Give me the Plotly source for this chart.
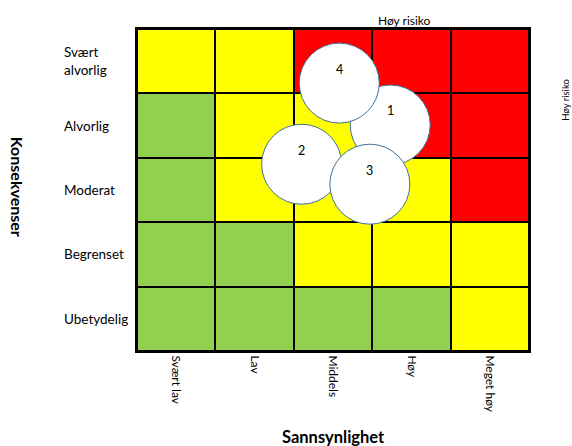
import plotly.graph_objects as go

# Data
likelihood = ["Svært lav", "Lav", "Middels", "Høy", "Meget høy"]
consequence = ["Ubetydelig", "Begrenset", "Moderat", "Alvorlig", "Svært<br>alvorlig"]  # bottom -> top
# risk level per cell: 0 = low (green), 1 = medium (yellow), 2 = high (red); rows bottom -> top
risk_levels = [
    [0, 0, 0, 0, 1],
    [0, 0, 1, 1, 1],
    [0, 1, 1, 1, 2],
    [0, 1, 1, 2, 2],
    [1, 1, 2, 2, 2],
]
# Risk items (drawing order) : likelihood position, consequence position
risk_ids = ["1", "2", "4", "3"]
risk_x = [3.23, 2.10, 2.58, 2.97]
risk_y = [3.51, 2.90, 4.16, 2.59]

FONT = "Lato, Open Sans, sans-serif"
GREEN, YELLOW, RED = "#92D050", "#FFFF00", "#FF0000"

centers = [i + 0.5 for i in range(5)]

fig = go.Figure()
fig.add_trace(go.Heatmap(
    x=centers, y=centers, z=risk_levels,
    zmin=0, zmax=2,
    colorscale=[[0, GREEN], [0.5, YELLOW], [1, RED]],
    showscale=False, xgap=2, ygap=2, hoverinfo="skip",
))
fig.add_trace(go.Scatter(
    x=risk_x, y=risk_y, mode="markers",
    marker=dict(size=80, color="white", line=dict(color="#41719C", width=1)),
    hoverinfo="skip", showlegend=False,
))

annotations = []
for rid, rx, ry in zip(risk_ids, risk_x, risk_y):
    annotations.append(dict(x=rx, y=ry, xref="x", yref="y", text=rid, showarrow=False,
                            yshift=14, font=dict(family=FONT, size=12.5, color="black")))
for yc, lab in zip(centers, consequence):
    annotations.append(dict(x=-0.191, y=yc / 5, xref="paper", yref="paper", text=lab,
                            showarrow=False, xanchor="left", yanchor="middle", align="left",
                            font=dict(family=FONT, size=13.5, color="black")))
annotations += [
    dict(x=0.682, y=1.0, xref="paper", yref="paper", yshift=9, yanchor="middle",
         xanchor="center", text="Høy risiko", showarrow=False,
         font=dict(family=FONT, size=12, color="black")),
    dict(x=1.094, y=0.78, xref="paper", yref="paper", xanchor="center", yanchor="middle",
         text="Høy risiko", showarrow=False,
         textangle=-90, font=dict(family=FONT, size=9.5, color="black")),
    dict(x=-0.306, y=0.51, xref="paper", yref="paper", xanchor="center", yanchor="middle",
         text="<b>Konsekvenser</b>", showarrow=False,
         textangle=90, font=dict(family=FONT, size=16, color="black")),
    dict(x=0.5, y=0, xref="paper", yref="paper", yshift=-86, xanchor="center", yanchor="middle",
         text="<b>Sannsynlighet</b>",
         showarrow=False, font=dict(family=FONT, size=16.5, color="black")),
]

fig.update_layout(
    width=572, height=446, autosize=False,
    margin=dict(l=137, r=43, t=29, b=95),
    paper_bgcolor="white", plot_bgcolor="black",
    showlegend=False,
    annotations=annotations,
    xaxis=dict(range=[0, 5], tickvals=centers, ticktext=likelihood, tickangle=90,
               showgrid=False, zeroline=False, showline=True, linecolor="black", linewidth=2,
               mirror=True, ticks="", tickfont=dict(family=FONT, size=12, color="black"),
               fixedrange=True),
    yaxis=dict(range=[0, 5], showticklabels=False, showgrid=False, zeroline=False,
               showline=True, linecolor="black", linewidth=2, mirror=True, ticks="",
               fixedrange=True),
)

fig.write_html("out.html", config={"displayModeBar": False},
               post_script="document.body.style.margin='0';")
